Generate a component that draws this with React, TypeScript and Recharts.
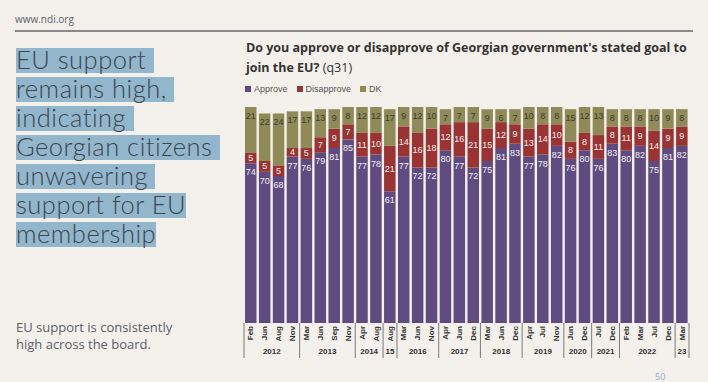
import React from 'react';
import { BarChart, Bar, XAxis, YAxis, LabelList } from 'recharts';

const COLOR_APPROVE = "#5f4b7f";
const COLOR_DISAPPROVE = "#9c3333";
const COLOR_DK = "#8f8a57";
const COLOR_BG = "#f4f1ec";

// survey waves, grouped by year as on the axis
const MONTHS = [
  "Feb", "Jun", "Aug", "Nov",
  "Mar", "Jun", "Sep", "Nov",
  "Apr", "Aug",
  "Aug",
  "Mar", "Jun", "Nov",
  "Apr", "Jun", "Dec",
  "Mar", "Jun", "Dec",
  "Apr", "Jul", "Nov",
  "Jun", "Dec",
  "Jul", "Dec",
  "Feb", "Mar", "Jul", "Dec",
  "Mar",
];
const YEAR_LABELS = ["2012", "2013", "2014", "15", "2016", "2017", "2018", "2019", "2020", "2021", "2022", "23"];
const YEAR_SIZES = [4, 4, 2, 1, 3, 3, 3, 3, 2, 2, 4, 1];

const APPROVE = [74, 70, 68, 77, 76, 79, 81, 85, 77, 78, 61, 77, 72, 72, 80, 77, 72, 75, 81, 83, 77, 78, 82, 76, 80, 76, 83, 80, 82, 75, 81, 82];
const DISAPPROVE = [5, 5, 5, 4, 5, 7, 9, 7, 11, 10, 21, 14, 16, 18, 12, 16, 21, 15, 12, 9, 13, 14, 10, 8, 8, 11, 8, 11, 9, 14, 9, 9];
const DK = [21, 22, 24, 17, 17, 13, 9, 8, 12, 12, 17, 9, 12, 10, 7, 7, 7, 9, 6, 7, 10, 8, 8, 15, 12, 13, 8, 8, 8, 10, 9, 8];

const SERIES = [
  { key: "approve", name: "Approve", color: COLOR_APPROVE },
  { key: "disapprove", name: "Disapprove", color: COLOR_DISAPPROVE },
  { key: "dk", name: "DK", color: COLOR_DK },
];

const CHART_W = 460;
const CHART_H = 270;
const MARGIN = { top: 7, right: 7, left: 8, bottom: 0 };
const SLOT = (CHART_W - MARGIN.left - MARGIN.right) / MONTHS.length;

// index of first bar of each year group
const groupStarts: Record<number, number> = {};
{
  let idx = 0;
  YEAR_SIZES.forEach((n, g) => {
    groupStarts[idx] = g;
    idx += n;
  });
}

const data = MONTHS.map((m, i) => ({
  key: `${i}-${m}`,
  month: m,
  approve: APPROVE[i],
  disapprove: DISAPPROVE[i],
  dk: DK[i],
}));

const TICK_FONT = "'Liberation Sans', Arial, sans-serif";

function AxisTick(props: any) {
  const { x, y, payload } = props;
  const i = payload.index;
  const g = groupStarts[i];
  const left = x - SLOT / 2;
  return (
    <g>
      <text
        x={0}
        y={0}
        transform={`translate(${x},${y + 3}) rotate(-90)`}
        textAnchor="end"
        dominantBaseline="central"
        fontSize={8}
        fontWeight="bold"
        fontFamily={TICK_FONT}
        fill="#333"
      >
        {MONTHS[i]}
      </text>
      {g !== undefined && (
        <>
          <line x1={left} x2={left} y1={y} y2={y + 35} stroke="#7a7a7a" strokeWidth={1} />
          <text
            x={left + (YEAR_SIZES[g] * SLOT) / 2}
            y={y + 31}
            textAnchor="middle"
            fontSize={8}
            fontWeight="bold"
            fontFamily={TICK_FONT}
            fill="#333"
          >
            {YEAR_LABELS[g]}
          </text>
        </>
      )}
      {i === MONTHS.length - 1 && (
        <line x1={x + SLOT / 2} x2={x + SLOT / 2} y1={y} y2={y + 35} stroke="#7a7a7a" strokeWidth={1} />
      )}
    </g>
  );
}

function makeLabel(where: 'top' | 'center', color: string) {
  return (props: any) => {
    const { x, y, width, height, value } = props;
    const cy = where === 'top' ? y + 9 : y + height / 2;
    return (
      <text
        x={x + width / 2}
        y={cy}
        textAnchor="middle"
        dominantBaseline="central"
        fontSize={9}
        fontFamily={TICK_FONT}
        fill={color}
      >
        {value}
      </text>
    );
  };
}

const HEADLINE = [
  "EU support ",
  "remains high, ",
  "indicating ",
  "Georgian citizens ",
  "unwavering ",
  "support for EU",
  "membership",
];

export default function App() {
  return (
    <div
      style={{
        position: 'absolute',
        left: 0,
        top: 0,
        width: 708,
        height: 382,
        background: COLOR_BG,
        overflow: 'hidden',
        fontFamily: "'Open Sans', sans-serif",
      }}
    >
      <div style={{ position: 'absolute', left: 15, top: 12, fontSize: 10, color: '#5a6070' }}>www.ndi.org</div>
      <div style={{ position: 'absolute', left: 15, top: 30, width: 678, height: 2, background: '#8a8a8a' }} />

      {/* headline */}
      <div style={{ position: 'absolute', left: 16, top: 48 }}>
        {HEADLINE.map((line, i) => (
          <div key={i} style={{ height: 29 }}>
            <span
              style={{
                display: 'inline-block',
                height: 25,
                lineHeight: '22px',
                fontSize: 25.5,
                letterSpacing: 0.5,
                fontFamily: "Lato, 'Open Sans', sans-serif",
                fontWeight: 300,
                color: '#3c4550',
                background: '#92b6cc',
                whiteSpace: 'pre',
              }}
            >
              {line}
            </span>
          </div>
        ))}
      </div>

      <div style={{ position: 'absolute', left: 16, top: 319, fontSize: 13, lineHeight: '17px', color: '#5b5f66' }}>
        EU support is consistently
      </div>
      <div style={{ position: 'absolute', left: 16, top: 336, fontSize: 13, lineHeight: '17px', color: '#5b5f66' }}>
        high across the board.
      </div>

      {/* chart title */}
      <div
        style={{
          position: 'absolute',
          left: 246,
          top: 38,
          width: 460,
          fontSize: 12.5,
          lineHeight: '20px',
          fontWeight: 700,
          color: '#333',
        }}
      >
        Do you approve or disapprove of Georgian government's stated goal to
        <br />
        join the EU? <span style={{ fontWeight: 400 }}>(q31)</span>
      </div>

      {/* legend */}
      <div
        style={{
          position: 'absolute',
          left: 245,
          top: 84,
          display: 'flex',
          gap: 9,
          fontSize: 9,
          color: '#555',
          fontFamily: TICK_FONT,
        }}
      >
        {SERIES.map((s) => (
          <div key={s.key} style={{ display: 'flex', alignItems: 'center', gap: 3 }}>
            <span style={{ width: 6, height: 6, background: s.color, display: 'inline-block' }} />
            {s.name}
          </div>
        ))}
      </div>

      <div style={{ position: 'absolute', left: 236, top: 100 }}>
        <BarChart width={CHART_W} height={CHART_H} data={data} margin={MARGIN} barSize={11.5}>
          <XAxis
            dataKey="key"
            interval={0}
            tickLine={false}
            axisLine={false}
            tickSize={0}
            tickMargin={0}
            height={47}
            tick={<AxisTick />}
          />
          <YAxis hide domain={[0, 100]} />
          <Bar dataKey="approve" name="Approve" stackId="a" fill={COLOR_APPROVE} isAnimationActive={false}>
            <LabelList dataKey="approve" content={makeLabel('top', '#f2f0f6')} />
          </Bar>
          <Bar dataKey="disapprove" name="Disapprove" stackId="a" fill={COLOR_DISAPPROVE} isAnimationActive={false}>
            <LabelList dataKey="disapprove" content={makeLabel('center', '#f6eeee')} />
          </Bar>
          <Bar dataKey="dk" name="DK" stackId="a" fill={COLOR_DK} isAnimationActive={false}>
            <LabelList dataKey="dk" content={makeLabel('top', '#3e3d33')} />
          </Bar>
        </BarChart>
      </div>

      <div style={{ position: 'absolute', left: 655, top: 370, fontSize: 9, color: '#9aa6be' }}>50</div>
    </div>
  );
}
